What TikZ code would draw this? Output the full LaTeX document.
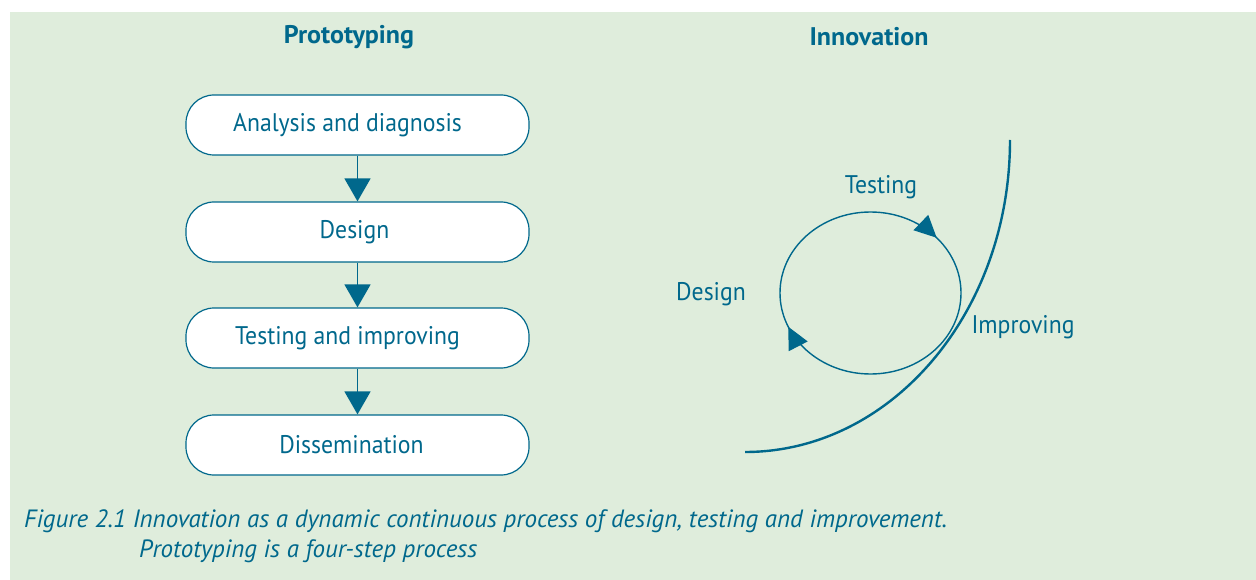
\documentclass[tikz,border=0pt]{standalone}
\usepackage{fontspec}
\setmainfont{PT Sans}[FakeStretch=0.93]
\newfontfamily\ttlfont{PT Sans}[FakeStretch=1.02]
\newfontfamily\capfont{PT Sans}[FakeStretch=1.0]
\usetikzlibrary{arrows.meta,decorations.markings}
\definecolor{ink}{RGB}{0,104,140}
\definecolor{bg}{RGB}{223,237,220}
\newcommand{\txtleft}[1]{\hspace*{-#1}}
\tikzset{
  stepbox/.style={draw=ink, fill=white, line width=1.2pt, rounded corners=28pt,
    minimum width=343pt, minimum height=60pt, text=ink, inner sep=0pt,
    font=\fontsize{25.5}{30}\selectfont},
  flow/.style={draw=ink, line width=1.5pt, -{Triangle[length=23pt,width=26pt]}},
  titletext/.style={text=ink, font=\ttlfont\fontsize{25.5}{30}\selectfont\bfseries},
  lbl/.style={text=ink, font=\fontsize{25.5}{30}\selectfont},
  captext/.style={text=ink, anchor=west, inner sep=0pt, font=\capfont\fontsize{25}{30}\selectfont\itshape},
  cyc/.style={draw=ink, line width=1.4pt,
    postaction={decorate, decoration={markings,
      mark=at position 0.135 with {\arrow{Triangle[length=22pt,width=21pt]}},
      mark=at position 0.685 with {\arrow{Triangle[length=22pt,width=21pt]}}}}}
}
\begin{document}
\begin{tikzpicture}[x=1pt,y=-1pt]
\useasboundingbox (0,0) rectangle (1256,580);
\fill[bg] (10,12) rectangle (1256,580);
% titles
\node[titletext] (tp) at (349,37) {Prototyping};
\node[titletext] (ti) at (869,37) {Innovation};
% prototyping boxes
\node[stepbox] (a) at (357.5,125) {\txtleft{20pt}Analysis and diagnosis};
\node[stepbox] (d) at (357.5,232) {\txtleft{6pt}Design};
\node[stepbox] (t) at (357.5,338) {\txtleft{20pt}Testing and improving};
\node[stepbox] (s) at (357.5,445) {\txtleft{12pt}Dissemination};
\draw[flow] (a) -- (d);
\draw[flow] (d) -- (t);
\draw[flow] (t) -- (s);
% innovation cycle
\draw[cyc] (870.5,293) ++(-90:90.5 and 81) arc[start angle=-90, end angle=270, x radius=90.5, y radius=81];
\draw[ink, line width=2.4pt] (745,452) arc[start angle=90, end angle=0, x radius=265, y radius=312];
\node[lbl] (lt) at (881,187) {Testing};
\node[lbl] (ld) at (711,294) {Design};
\node[lbl] (li) at (1023,327) {Improving};
% caption
\node[captext] (c1) at (24,521) {Figure 2.1 Innovation as a dynamic continuous process of design, testing and improvement.};
\node[captext] (c2) at (139,551) {Prototyping is a four-step process};
\end{tikzpicture}
\end{document}
